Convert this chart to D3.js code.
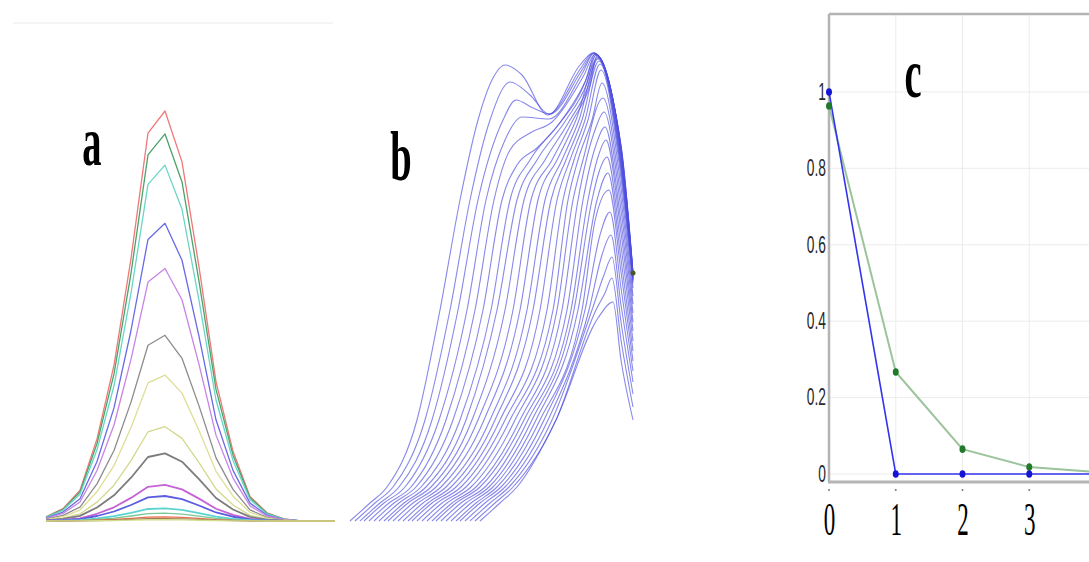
<!DOCTYPE html>
<html>
<head>
<meta charset="utf-8">
<title>Panels a, b, c</title>
<script src="https://d3js.org/d3.v7.min.js"></script>
<style>
  body { margin: 0; background: #fff; }
</style>
</head>
<body>
<div id="fig"></div>
<script>
// ---------- data ----------
// panel a: sample index, shared pulse profile, peak of each pulse (largest first)
var aSamples = [0, 1, 2, 3, 4, 5, 6, 7, 8, 9, 10, 11, 12, 13, 14, 15, 16, 17];
var aProfile = [0.01, 0.03, 0.075, 0.2, 0.38, 0.64, 0.946, 1.0, 0.876, 0.62, 0.34, 0.17, 0.06, 0.02, 0.005, 0, 0, 0];
var aPeaks = [1.0, 0.944, 0.868, 0.726, 0.616, 0.453, 0.356, 0.23, 0.165, 0.088, 0.061, 0.031, 0.019, 0.010, 0.006, 0.003];

// panel b: one profile per curve, [position, amplitude]
var bCurves = [
  [[0.5,0],[2.5,1.8],[4.2,3.4],[7.2,10.1],[9.5,21.1],[11.5,32.1],[13.3,40.1],[14.7,44.1],[16.0,45.6],[17.7,44.6],[20.3,40.6],[23.5,45.6],[24.8,46.8],[27.6,37.6],[28.8,24.8]],
  [[1.0,0],[3.0,1.8],[4.8,3.4],[8.0,10.1],[10.5,21.1],[12.5,32.1],[14.5,40.1],[16.5,43.9],[18.5,42.6],[20.4,40.7],[23.6,45.3],[24.8,46.8],[27.6,37.5],[28.8,24.8]],
  [[1.5,0],[3.5,1.8],[5.4,3.4],[8.7,10.1],[11.3,21.1],[13.3,32.1],[15.8,40.1],[17.1,42.1],[18.8,41.3],[20.5,40.7],[23.7,45.1],[24.9,46.8],[27.6,37.4],[28.8,24.7]],
  [[1.9,0],[3.9,1.8],[6.0,3.4],[9.4,10.1],[12.2,21.1],[14.1,32.1],[16.0,38.1],[17.7,40.4],[20.4,40.2],[23.8,44.9],[24.9,46.8],[27.6,37.3],[28.8,24.7]],
  [[2.4,0],[4.4,1.8],[6.6,3.4],[10.1,10.1],[13.0,21.1],[14.9,32.1],[16.5,37.1],[18.5,38.8],[20.7,39.9],[23.9,44.6],[25.0,46.7],[27.6,37.2],[28.8,24.6]],
  [[2.9,0],[4.9,1.8],[7.1,3.4],[10.8,10.1],[13.8,21.1],[15.7,32.1],[17.2,35.6],[19.2,37.3],[21.3,39.6],[24.1,44.1],[25.0,46.7],[27.6,37.1],[28.8,24.6]],
  [[3.4,0],[5.4,1.8],[7.6,3.4],[11.5,10.1],[14.6,21.1],[16.5,32.1],[18.5,36.1],[21.7,40.1],[24.0,43.9],[25.1,46.6],[27.6,36.9],[28.8,24.5]],
  [[3.9,0],[5.9,1.8],[8.1,3.4],[12.1,10.1],[15.2,21.1],[17.2,32.1],[19.2,36.1],[22.1,40.1],[24.2,43.8],[25.1,46.6],[27.6,36.7],[28.8,24.5]],
  [[4.3,0],[6.3,1.8],[8.6,3.4],[12.7,10.1],[16.0,21.1],[17.9,32.1],[20.0,36.1],[22.5,40.1],[24.4,43.7],[25.2,46.5],[27.6,36.5],[28.8,24.4]],
  [[4.8,0],[6.8,1.8],[9.1,3.4],[13.3,10.1],[16.8,21.1],[18.6,32.1],[20.7,36.1],[22.8,40.1],[24.5,43.6],[25.2,46.4],[27.6,36.3],[28.8,24.3]],
  [[5.3,0],[7.3,1.8],[9.6,3.4],[13.9,10.1],[17.5,21.1],[19.3,32.1],[21.2,36.1],[23.1,40.1],[25.3,46.3],[27.6,36.0],[28.8,24.2]],
  [[5.8,0],[7.8,1.8],[10.1,3.4],[14.5,10.1],[18.2,21.1],[20.0,32.1],[21.7,36.1],[23.4,40.1],[25.3,46.2],[27.6,35.7],[28.8,24.1]],
  [[6.3,0],[8.3,1.8],[10.6,3.4],[15.0,10.1],[18.8,21.1],[20.6,32.1],[22.1,36.1],[23.7,40.1],[25.4,46.0],[27.6,35.4],[28.8,24.0]],
  [[6.7,0],[8.7,1.8],[11.1,3.4],[15.5,10.1],[19.5,21.1],[21.2,32.1],[22.5,36.1],[24.0,40.1],[25.5,45.7],[27.6,35.0],[28.8,23.8]],
  [[7.2,0],[9.2,1.8],[11.6,3.4],[16.0,10.1],[20.2,21.1],[21.8,32.1],[22.9,36.1],[24.3,40.1],[25.6,45.1],[27.6,34.3],[28.8,23.3]],
  [[7.7,0],[9.7,1.8],[12.1,3.4],[16.5,10.1],[20.8,21.1],[22.3,32.1],[23.3,36.1],[24.7,40.1],[25.7,43.8],[27.6,33.3],[28.8,22.5]],
  [[8.2,0],[10.2,1.8],[12.6,3.4],[17.0,10.1],[21.2,21.1],[22.8,32.1],[23.8,36.1],[25.8,42.3],[27.6,32.2],[28.8,21.7]],
  [[8.7,0],[10.7,1.8],[13.1,3.4],[17.5,10.1],[21.7,21.1],[23.3,32.1],[25.0,39.1],[25.9,40.9],[27.6,31.1],[28.8,20.8]],
  [[9.1,0],[11.1,1.8],[13.5,3.4],[17.9,10.1],[22.2,21.1],[23.8,32.1],[25.1,37.6],[26.0,39.4],[27.6,29.9],[28.8,19.9]],
  [[9.6,0],[11.6,1.8],[14.0,3.4],[18.3,10.1],[22.6,21.1],[24.3,32.1],[25.3,36.4],[26.1,38.1],[27.6,28.8],[28.8,19.0]],
  [[10.1,0],[12.1,1.8],[14.4,3.4],[18.7,10.1],[22.9,21.1],[24.7,32.1],[25.4,34.9],[26.2,36.4],[27.6,27.5],[28.8,18.0]],
  [[10.6,0],[12.6,1.8],[14.8,3.4],[19.1,10.1],[23.3,21.1],[25.2,32.1],[26.3,34.8],[27.6,26.2],[28.8,17.0]],
  [[11.1,0],[13.1,1.8],[15.2,3.4],[19.5,10.1],[23.7,21.1],[25.0,30.0],[26.4,33.1],[27.6,24.9],[28.8,16.0]],
  [[11.5,0],[13.5,1.8],[15.6,3.4],[19.9,10.1],[24.0,21.1],[25.5,28.6],[26.5,30.9],[27.6,23.3],[28.8,15.0]],
  [[12.0,0],[14.0,1.8],[16.0,3.4],[20.3,10.1],[24.4,21.1],[25.7,26.6],[26.6,28.6],[27.6,21.6],[28.8,13.9]],
  [[12.5,0],[14.5,1.8],[16.4,3.4],[20.7,10.1],[24.7,21.1],[25.9,24.6],[26.7,26.4],[27.6,19.9],[28.8,12.7]],
  [[13.0,0],[15.0,1.8],[16.8,3.4],[21.1,10.1],[25.1,21.1],[26.0,22.8],[26.7,24.3],[27.6,18.1],[28.8,11.4]],
  [[13.5,0],[15.5,1.8],[17.2,3.4],[21.1,10.1],[25.3,20.3],[26.8,21.9],[27.6,16.1],[28.8,10.1]]
];

// panel c: two decaying series
var cSteps = [0, 1, 2, 3, 4, 5];
var cBlue = [1.0, 0, 0, 0, 0, 0];
var cGreen = [0.963, 0.267, 0.065, 0.018, 0.005, 0.001];
var cYTicks = [0, 0.2, 0.4, 0.6, 0.8, 1];
var cXTicks = [0, 1, 2, 3, 4];

// ---------- style ----------
var aPalette = ["#f07878", "#4aa36a", "#6ad6c6", "#6a6ae6", "#c884e4", "#8c8c8c", "#dede98", "#d4d88c",
                "#7c7c7c", "#c462d6", "#5c5ce0", "#5cd4d0", "#78c898", "#e87050", "#a08050", "#d4dc8c"];
var W = 1089, H = 562;

var svg = d3.select("#fig").append("svg")
    .attr("width", W)
    .attr("height", H);

function panelLabel(txt, x, y) {
    svg.append("text")
        .attr("transform", "translate(" + x + "," + y + ") scale(0.55,1)")
        .attr("text-anchor", "middle")
        .style("font-family", "'Liberation Serif', 'Times New Roman', serif")
        .style("font-weight", "bold")
        .style("font-size", "70px")
        .text(txt);
}

// ---------- panel a ----------
var xa = d3.scaleLinear().domain([0, 17]).range([46, 335]);
var ya = d3.scaleLinear().domain([0, 1]).range([521, 111]);

svg.append("line")
    .attr("x1", 13).attr("x2", 333).attr("y1", 23).attr("y2", 23)
    .style("stroke", "#f5f5f5").style("stroke-width", 2);

var lineA = d3.line()
    .x(function(d, i) { return xa(aSamples[i]); })
    .y(function(d) { return ya(d); });

aPeaks.forEach(function(p, k) {
    svg.append("path")
        .datum(aProfile.map(function(v) { return v * p; }))
        .attr("d", lineA)
        .style("fill", "none")
        .style("stroke", aPalette[k])
        .style("stroke-width", (k >= 8 && k <= 11) ? 1.8 : 1.3)
        .style("stroke-linejoin", "round");
});
panelLabel("a", 92, 165);

// ---------- panel b ----------
var xb = d3.scaleLinear().domain([0, 29]).range([345, 635]);
var yb = d3.scaleLinear().domain([0, 47.1]).range([521, 50]);
var lineB = d3.line()
    .x(function(d) { return xb(d[0]); })
    .y(function(d) { return yb(d[1]); })
    .curve(d3.curveMonotoneX);

svg.append("g").selectAll("path")
    .data(bCurves)
    .enter()
    .append("path")
        .attr("d", lineB)
        .style("fill", "none")
        .style("stroke", "#5050e0")
        .style("stroke-opacity", 0.68)
        .style("stroke-width", 1.1);

var bEnd = bCurves[0][bCurves[0].length - 1];
svg.append("circle")
    .attr("cx", xb(bEnd[0])).attr("cy", yb(bEnd[1])).attr("r", 2.5)
    .style("fill", "#4a5a20");
panelLabel("b", 401, 180);

// ---------- panel c ----------
var xc = d3.scaleLinear().domain([0, 4]).range([829, 1096]);
var yc = d3.scaleLinear().domain([-0.021, 1.204]).range([482, 14]);
var gc = svg.append("g");

// grid
gc.selectAll(".hg").data(cYTicks).enter().append("line")
    .attr("x1", xc(0)).attr("x2", W)
    .attr("y1", function(d) { return yc(d); }).attr("y2", function(d) { return yc(d); })
    .style("stroke", "#ececec").style("stroke-width", 1);
gc.selectAll(".vg").data(cXTicks.slice(1)).enter().append("line")
    .attr("x1", function(d) { return xc(d); }).attr("x2", function(d) { return xc(d); })
    .attr("y1", yc(1.204)).attr("y2", yc(-0.021))
    .style("stroke", "#ececec").style("stroke-width", 1);

// frame
gc.append("line").attr("x1", xc(0)).attr("x2", W).attr("y1", yc(1.204)).attr("y2", yc(1.204))
    .style("stroke", "#b4b4b4").style("stroke-width", 2.5);
gc.append("line").attr("x1", xc(0)).attr("x2", xc(0)).attr("y1", yc(1.204)).attr("y2", yc(-0.021))
    .style("stroke", "#b4b4b4").style("stroke-width", 2.5);
gc.append("line").attr("x1", xc(0) - 1).attr("x2", W).attr("y1", yc(-0.021)).attr("y2", yc(-0.021))
    .style("stroke", "#b4b4b4").style("stroke-width", 3);

// y axis labels
var yAxis = gc.append("g")
    .attr("transform", "translate(" + xc(0) + ",0)")
    .call(d3.axisLeft(yc).tickValues(cYTicks).tickSize(0).tickPadding(0)
        .tickFormat(function(d) { return d === 0 ? "0" : d === 1 ? "1" : d3.format(".1f")(d); }));
yAxis.select(".domain").remove();
yAxis.selectAll("text")
    .attr("x", null)
    .attr("transform", "translate(-3,0) scale(0.6,1)")
    .style("font-family", "'Liberation Sans', Arial, sans-serif")
    .style("font-size", "23px")
    .style("fill", "#2a2a2a");

// x axis labels
var xAxis = gc.append("g")
    .attr("transform", "translate(0," + yc(-0.021) + ")")
    .call(d3.axisBottom(xc).tickValues(cXTicks).tickSize(0).tickPadding(0).tickFormat(d3.format("d")));
xAxis.select(".domain").remove();
xAxis.selectAll("text")
    .attr("y", null).attr("dy", null)
    .attr("transform", "translate(0,53) scale(0.5,1)")
    .style("font-family", "'Liberation Serif', 'Times New Roman', serif")
    .style("font-size", "46px")
    .style("fill", "#000");
gc.selectAll(".tk").data(cXTicks).enter().append("circle")
    .attr("cx", function(d) { return xc(d); }).attr("cy", yc(-0.021) + 8).attr("r", 1)
    .style("fill", "#777");

// series
var lineC = d3.line()
    .x(function(d, i) { return xc(cSteps[i]); })
    .y(function(d) { return yc(d); });
gc.append("path").datum(cGreen).attr("d", lineC)
    .style("fill", "none").style("stroke", "#9cc49c").style("stroke-width", 2);
gc.append("path").datum(cBlue).attr("d", lineC)
    .style("fill", "none").style("stroke", "#3434ee").style("stroke-width", 1.6);
gc.selectAll(".gd").data(cGreen).enter().append("ellipse")
    .attr("cx", function(d, i) { return xc(cSteps[i]); }).attr("cy", function(d) { return yc(d); })
    .attr("rx", 3).attr("ry", 3.8).style("fill", "#1f7a2a");
gc.selectAll(".bd").data(cBlue).enter().append("ellipse")
    .attr("cx", function(d, i) { return xc(cSteps[i]); }).attr("cy", function(d) { return yc(d); })
    .attr("rx", 3).attr("ry", 3.8).style("fill", "#1414d4");
panelLabel("c", 913, 97);
</script>
</body>
</html>
